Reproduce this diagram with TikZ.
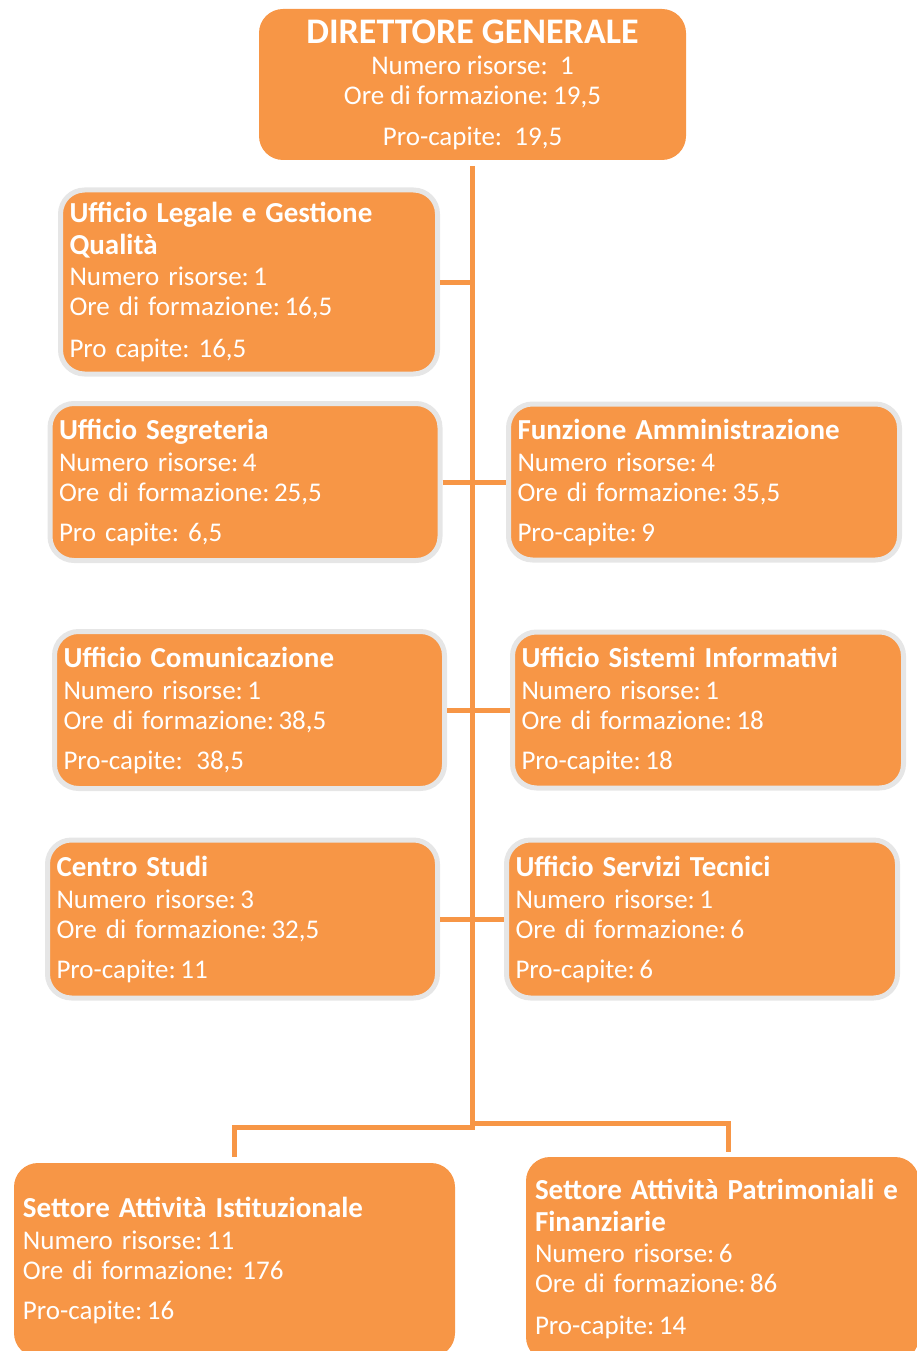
\documentclass[tikz,border=0pt]{standalone}
\usepackage{fontspec}
\setmainfont{Carlito}
\usetikzlibrary{positioning, calc}
\definecolor{ocolor}{HTML}{F79646}
\definecolor{rcolor}{HTML}{E6E6E6}
\newcommand\unitname[1]{{\fontsize{29}{30}\selectfont\bfseries #1}}

\begin{document}
\begin{tikzpicture}[
    x=1pt, y=-1pt,
    unit/.style={rectangle, fill=ocolor, rounded corners=24pt, text=white, align=left,
      inner xsep=9pt, inner ysep=0pt, font=\fontsize{27}{30}\selectfont},
    office/.style={unit, draw=rcolor, line width=5pt},
    sector/.style={unit, draw=none},
    conn/.style={draw=ocolor, line width=5pt},
  ]
    \useasboundingbox (0,0) rectangle (917,1351);
    \clip (0,0) rectangle (917,1351);

    % head
    \node[sector, align=center, minimum width=427pt, minimum height=151pt] (dg) at (472.5,84.5)
      {{\fontsize{36}{30}\selectfont\bfseries DIRETTORE GENERALE}\\[1pt]
       Numero risorse:\ \ 1\\ Ore di formazione:\,19,5\\[11pt] Pro-capite:\ \ 19,5};

    % offices
    \node[office, text width=359pt, minimum height=184pt] (legal) at (249,282)
      {\unitname{Ufficio Legale e Gestione}\\[2pt] \unitname{Qualità}\\[1pt] Numero risorse:\,1\\ Ore di formazione:\,16,5\\[12pt] Pro capite:\ 16,5};
    \node[office, text width=372pt, minimum height=157pt] (segr) at (245,482)
      {\unitname{Ufficio Segreteria}\\[2pt] Numero risorse:\,4\\ Ore di formazione:\,25,5\\[10pt] Pro capite:\ 6,5};
    \node[office, text width=373pt, minimum height=156pt] (ammin) at (704,482)
      {\unitname{Funzione Amministrazione}\\[2pt] Numero risorse:\,4\\ Ore di formazione:\,35,5\\[10pt] Pro-capite:\,9};
    \node[office, text width=372pt, minimum height=157pt] (comun) at (249.5,710)
      {\unitname{Ufficio Comunicazione}\\[2pt] Numero risorse:\,1\\ Ore di formazione:\,38,5\\[10pt] Pro-capite:\ \,38,5};
    \node[office, text width=373pt, minimum height=156pt] (sistemi) at (708,710)
      {\unitname{Ufficio Sistemi Informativi}\\[2pt] Numero risorse:\,1\\ Ore di formazione:\,18\\[10pt] Pro-capite:\,18};
    \node[office, text width=372pt, minimum height=158pt] (centro) at (242.5,919)
      {\unitname{Centro Studi}\\[2pt] Numero risorse:\,3\\ Ore di formazione:\,32,5\\[10pt] Pro-capite:\,11};
    \node[office, text width=373pt, minimum height=158pt] (servizi) at (702,919)
      {\unitname{Ufficio Servizi Tecnici}\\[2pt] Numero risorse:\,1\\ Ore di formazione:\,6\\[10pt] Pro-capite:\,6};

    % sectors
    \node[sector, text width=423pt, minimum height=194pt] (istit) at (234.5,1260)
      {\unitname{Settore Attività Istituzionale}\\[2pt] Numero risorse:\,11\\ Ore di formazione:\ 176\\[10pt] Pro-capite:\,16};
    \node[sector, text width=375pt, minimum height=204pt] (patr) at (722.5,1259)
      {\unitname{Settore Attività Patrimoniali e}\\[2pt] \unitname{Finanziarie}\\[1pt] Numero risorse:\,6\\ Ore di formazione:\,86\\[12pt] Pro-capite:\,14};

    % connectors
    \coordinate (spinetop) at (472.5,166);
    \coordinate (spinebot) at (472.5,1127);
    \coordinate (forkr) at (472.5,1123);
    \coordinate (istdrop) at (234.5,1157);
    \coordinate (patrdrop) at (728,1152);
    \draw[conn] (spinetop) -- (spinebot) -| (istdrop);
    \draw[conn] (forkr) -| (patrdrop);
    \draw[conn] (legal.east) -- (legal.east -| spinetop);
    \draw[conn] (segr.east) -- (ammin.west);
    \draw[conn] (comun.east) -- (sistemi.west);
    \draw[conn] (centro.east) -- (servizi.west);
  \end{tikzpicture}
\end{document}
